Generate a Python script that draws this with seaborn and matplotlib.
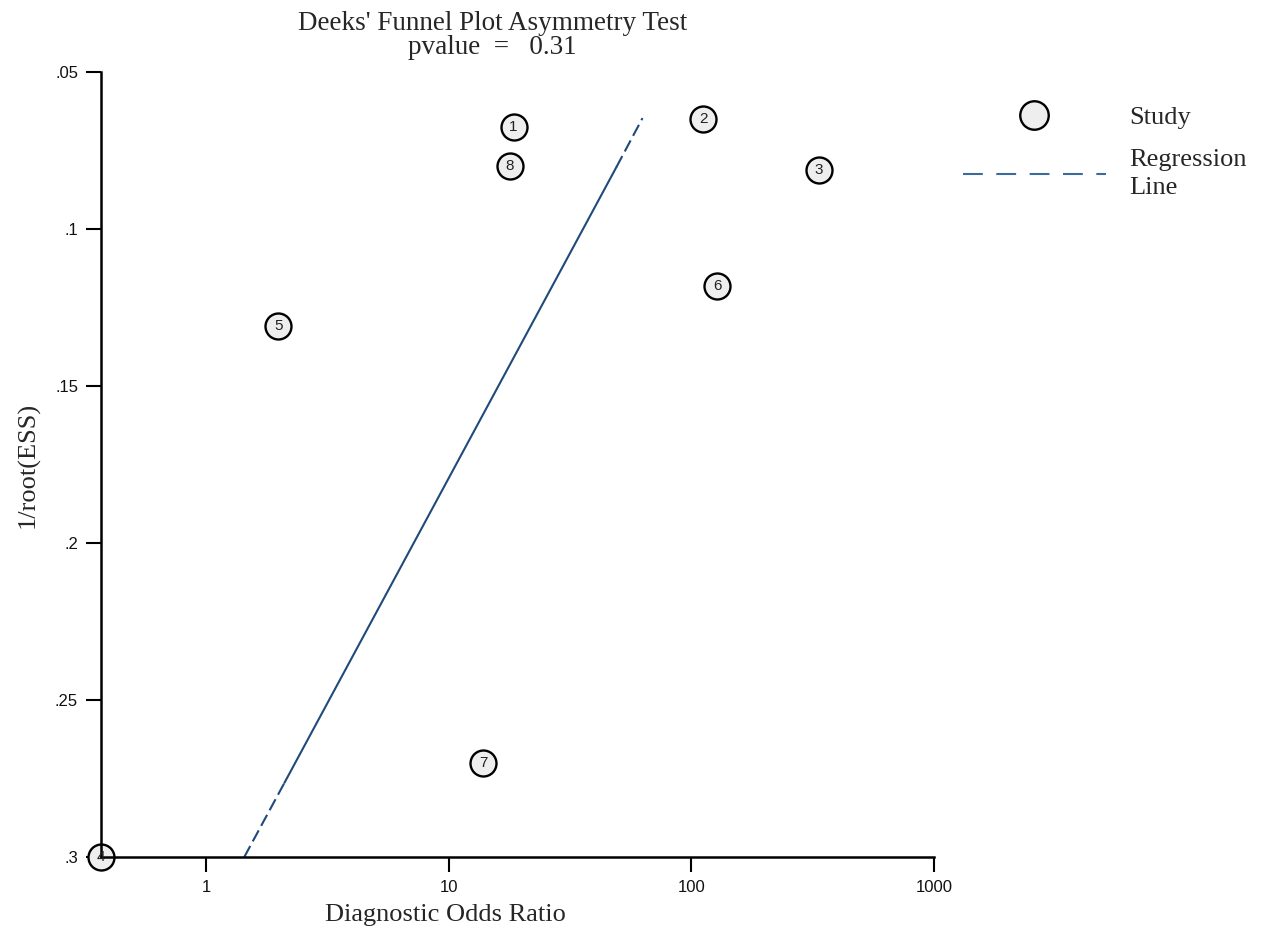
import numpy as np
import pandas as pd
import matplotlib
matplotlib.use("Agg")
import matplotlib.pyplot as plt
from matplotlib.lines import Line2D
from matplotlib.ticker import NullLocator
import seaborn as sns

# Deeks' funnel plot data
study = ["1", "2", "3", "4", "5", "6", "7", "8"]
dor = [18.5, 112, 336, 0.368, 1.98, 128, 13.9, 17.8]          # diagnostic odds ratio
inv_root_ess = [0.0675, 0.0650, 0.0812, 0.300, 0.1309, 0.1182, 0.2701, 0.0799]

# regression line: bottom end, end of lower dashes, start of upper dashes, top end
reg_x = [1.435, 2.10, 49.1, 62.9]
reg_y = [0.300, 0.2764, 0.0803, 0.0647]

x_ticks = [1, 10, 100, 1000]
x_ticklabels = ["1", "10", "100", "1000"]
y_ticks = [0.05, 0.1, 0.15, 0.2, 0.25, 0.3]
y_ticklabels = [".05", ".1", ".15", ".2", ".25", ".3"]

pvalue = 0.31

df = pd.DataFrame({"study": study, "dor": dor, "ess": inv_root_ess})
reg = pd.DataFrame({"x": reg_x, "y": reg_y})

sns.set_theme(style="white")
plt.rcParams["font.family"] = ["Liberation Serif", "DejaVu Serif"]

SERIF = ["Liberation Serif", "DejaVu Serif"]
SANS = ["Liberation Sans", "DejaVu Sans"]
LINE_COL = "#1f4a7a"

fig = plt.figure(figsize=(12.62, 9.32), dpi=100)
ax = fig.add_axes([0.0800, 0.0805, 0.660, 0.8423])

# regression line: dashed ends, solid middle
sns.lineplot(data=reg.iloc[0:2], x="x", y="y", ax=ax, color=LINE_COL, lw=1.5,
             sort=False, estimator=None, linestyle=(0, (6, 2.5)))
sns.lineplot(data=reg.iloc[1:3], x="x", y="y", ax=ax, color=LINE_COL, lw=1.5,
             sort=False, estimator=None)
sns.lineplot(data=reg.iloc[2:4], x="x", y="y", ax=ax, color=LINE_COL, lw=1.5,
             sort=False, estimator=None, linestyle=(0, (6, 2.5)))

# studies
sns.scatterplot(data=df, x="dor", y="ess", ax=ax, s=350, color="#eeeeee",
                edgecolor="black", linewidth=1.7, clip_on=False, zorder=1)
for _, r in df.iterrows():
    ax.text(r["dor"], r["ess"], r["study"], ha="center", va="center",
            fontsize=11, family=SANS, color="#222222", zorder=4, clip_on=False)

ax.set_xscale("log")
ax.set_xlim(0.368, 1000)
ax.set_ylim(0.3, 0.05)
ax.set_xticks(x_ticks)
ax.set_xticklabels(x_ticklabels)
ax.xaxis.set_minor_locator(NullLocator())
ax.set_yticks(y_ticks)
ax.set_yticklabels(y_ticklabels)
for lab in ax.get_xticklabels() + ax.get_yticklabels():
    lab.set_family(SANS)
    lab.set_fontsize(12)
ax.tick_params(axis="both", direction="out", length=10.5, width=1.5,
               color="black", pad=6, labelcolor="#111111")
ax.tick_params(axis="x", bottom=True)
ax.tick_params(axis="y", left=True)

sns.despine(ax=ax)
for sp in ["left", "bottom"]:
    ax.spines[sp].set_linewidth(1.8)
    ax.spines[sp].set_color("black")

ax.set_xlabel("")
ax.set_ylabel("")
fig.text(0.353, 1 - 915 / 932, "Diagnostic Odds Ratio", ha="center", va="center",
         fontsize=19, family=SERIF)
fig.text(28 / 1262, 1 - 465 / 932, "1/root(ESS)", ha="center", va="center",
         rotation=90, fontsize=19, family=SERIF)

fig.text(0.390, 1 - 23 / 932, "Deeks' Funnel Plot Asymmetry Test", ha="center",
         va="center", fontsize=19.5, family=SERIF)
fig.text(0.390, 1 - 48 / 932, f"pvalue  =   {pvalue:.2f}", ha="center",
         va="center", fontsize=19.5, family=SERIF)

handles = [
    Line2D([], [], marker="o", linestyle="none", markersize=20.5,
           markerfacecolor="#eeeeee", markeredgecolor="black", markeredgewidth=1.7),
    Line2D([], [], color="#3b6a9c", lw=1.5, linestyle=(0, (9.5, 6.5))),
]
leg = fig.legend(handles, ["Study", "Regression\nLine"], loc="upper left",
                 bbox_to_anchor=(963 / 1262, 1 - 106 / 932), frameon=False,
                 prop={"family": SERIF, "size": 19}, handlelength=5.4,
                 handletextpad=0.9, labelspacing=0.75, borderpad=0, borderaxespad=0)
for t in leg.get_texts():
    t.set_linespacing(1.35)

fig.savefig("out.png", dpi=100)
